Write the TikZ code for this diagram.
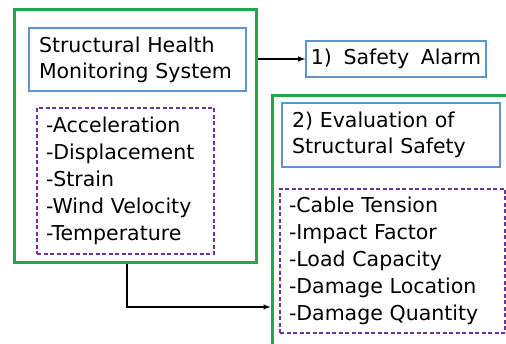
\documentclass[tikz,border=0pt]{standalone}
\usepackage{fontspec}
\setmainfont[WordSpace={1.8,1,1}]{DejaVu Sans}
\usepackage{tikz}
\usetikzlibrary{shapes,arrows,positioning,fit}

\definecolor{boxgreen}{RGB}{34,168,76}
\definecolor{boxblue}{RGB}{91,148,208}
\definecolor{boxpurple}{RGB}{112,48,160}

\begin{document}
\begin{tikzpicture}[x=1pt, y=1pt]
		\tikzstyle{Outer}	= [rectangle, draw=boxgreen, line width=3pt, inner sep=0pt]
		\tikzstyle{Title}	= [rectangle, draw=boxblue, line width=1.6pt, fill=white, align=left, inner xsep=10pt, font=\fontsize{20.5}{26}\selectfont]
		\tikzstyle{List}	= [rectangle, draw=boxpurple, line width=1.4pt, dash pattern=on 4pt off 2.5pt, align=left, inner xsep=9pt, font=\fontsize{20.5}{27}\selectfont]
		\tikzstyle{Link}	= [-latex, line width=1.4pt, black]

		\clip (0,0) rectangle (506,344);

		% left: monitoring system
		\node (monitor) at (135, 207.5) [Outer][minimum width=242pt, minimum height=253pt] {};
		\node (shms) at (137.5, 284.5) [Title][text width=197pt, minimum height=63pt] {Structural Health\\Monitoring System};
		\node (sensors) at (125.5, 163) [List][text width=159pt, minimum height=146pt] {-Acceleration\\-Displacement\\-Strain\\-Wind Velocity\\-Temperature};

		% right: alarm and evaluation
		\node (alarm) at (396, 285) [Title][inner xsep=4pt, minimum width=180pt, minimum height=36pt] {1) Safety Alarm};
		\node (evaluation) at (401, 111) [Outer][minimum width=258pt, minimum height=274pt] {};
		\node (safety) at (391, 209) [Title][text width=198pt, minimum height=64pt] {2) Evaluation of\\Structural Safety};
		\node (results) at (392.5, 83) [List][text width=207pt, minimum height=144pt] {-Cable Tension\\-Impact Factor\\-Load Capacity\\-Damage Location\\-Damage Quantity};

		\draw[Link] (monitor.east |- alarm.west) -- (alarm.west);
		\draw[Link] ([xshift=-8pt]monitor.south) |- ([yshift=-74pt]evaluation.west);
\end{tikzpicture}
\end{document}
